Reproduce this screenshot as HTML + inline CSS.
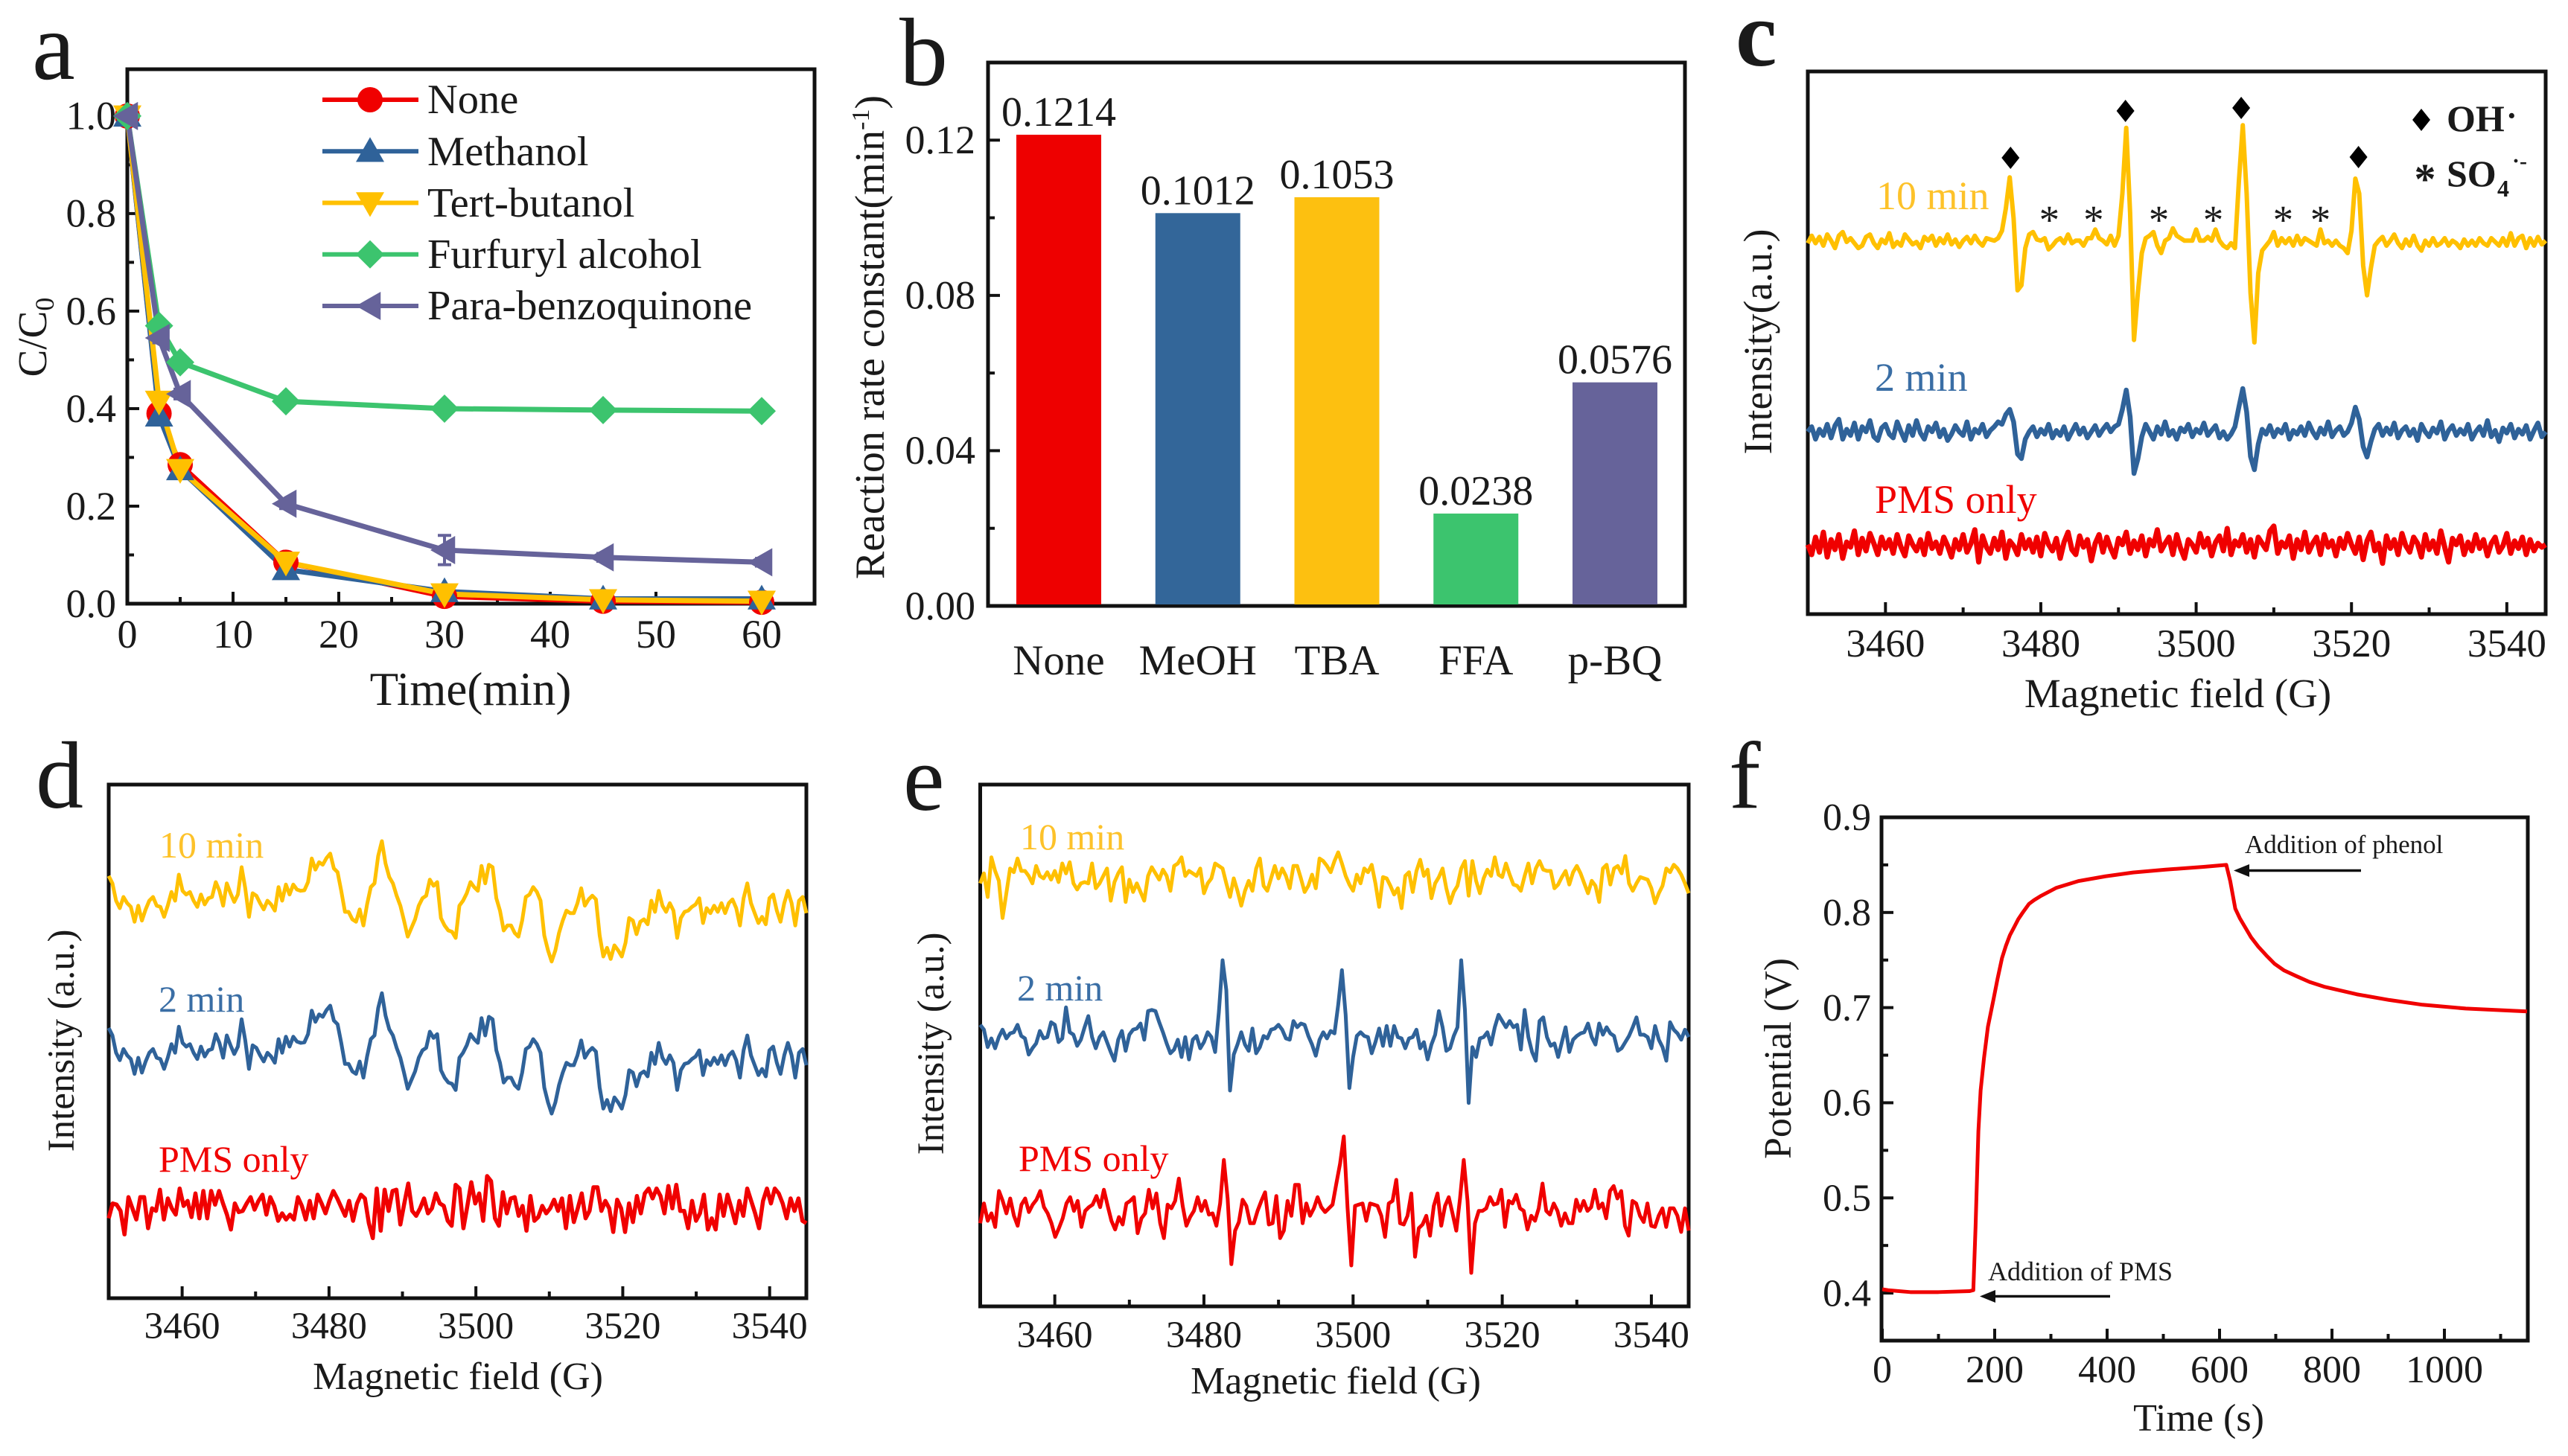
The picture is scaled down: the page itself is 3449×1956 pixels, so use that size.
<!DOCTYPE html>
<html lang="en">
<head>
<meta charset="utf-8">
<title>Radical quenching and EPR spectra figure</title>
<style>
html,body{margin:0;padding:0;background:#fff;}
svg{display:block;font-family:"Liberation Serif",serif;fill:#111;}
text{fill:#1a1a1a;}
</style>
</head>
<body>
<svg id="fig" xmlns="http://www.w3.org/2000/svg" width="3449" height="1956" viewBox="0 0 3449 1956">
<rect x="0" y="0" width="3449" height="1956" style="fill:#fff"/>

<!-- panel letters -->
<text x="43" y="106" font-size="130">a</text>
<text x="1208" y="114" font-size="130">b</text>
<text x="2331" y="88" font-size="125" font-weight="bold">c</text>
<text x="48" y="1085" font-size="128">d</text>
<text x="1213" y="1088" font-size="125">e</text>
<text x="2322" y="1085" font-size="128">f</text>

<!-- frames -->
<rect x="171" y="93" width="923" height="718" style="fill:none;stroke:#111;stroke-width:5"/>
<rect x="1327" y="84" width="936" height="730" style="fill:none;stroke:#111;stroke-width:5"/>
<rect x="2428" y="96" width="991" height="729" style="fill:none;stroke:#111;stroke-width:5"/>
<rect x="146" y="1054" width="937" height="690" style="fill:none;stroke:#111;stroke-width:5"/>
<rect x="1316.5" y="1054" width="951.5" height="701" style="fill:none;stroke:#111;stroke-width:5"/>
<rect x="2527" y="1098" width="868" height="703" style="fill:none;stroke:#111;stroke-width:5"/>

<!-- axis titles -->
<text x="632" y="947" font-size="63" text-anchor="middle">Time(min)</text>
<text transform="translate(62,453) rotate(-90)" font-size="55" text-anchor="middle">C/C<tspan font-size="36" dy="10">0</tspan></text>
<text transform="translate(1187,453) rotate(-90)" font-size="56" text-anchor="middle">Reaction rate constant(min<tspan font-size="34" dy="-20">-1</tspan><tspan dy="20">)</tspan></text>
<text x="2925" y="950" font-size="55" text-anchor="middle">Magnetic field (G)</text>
<text transform="translate(2379,459) rotate(-90)" font-size="54" text-anchor="middle">Intensity(a.u.)</text>
<text x="615" y="1866" font-size="52" text-anchor="middle">Magnetic field (G)</text>
<text transform="translate(99,1398) rotate(-90)" font-size="51" text-anchor="middle">Intensity (a.u.)</text>
<text x="1794" y="1872" font-size="52" text-anchor="middle">Magnetic field (G)</text>
<text transform="translate(1267,1402) rotate(-90)" font-size="51" text-anchor="middle">Intensity (a.u.)</text>
<text x="2953" y="1922" font-size="52" text-anchor="middle">Time (s)</text>
<text transform="translate(2405,1422) rotate(-90)" font-size="52" text-anchor="middle">Potential (V)</text>

<!-- legend a -->
<text x="574" y="152" font-size="56.5">None</text>
<text x="574" y="222" font-size="56.5">Methanol</text>
<text x="574" y="291" font-size="56.5">Tert-butanol</text>
<text x="574" y="360" font-size="56.5">Furfuryl alcohol</text>
<text x="574" y="429" font-size="56.5">Para-benzoquinone</text>

<!-- trace labels -->
<text x="2520" y="281" font-size="54" style="fill:#FDC22A">10 min</text>
<text x="2518" y="525" font-size="54" style="fill:#3A6EA5">2 min</text>
<text x="2518" y="689" font-size="54" style="fill:#F00000">PMS only</text>
<text x="214" y="1152" font-size="50" style="fill:#FDC22A">10 min</text>
<text x="213" y="1359" font-size="50" style="fill:#3A6EA5">2 min</text>
<text x="213" y="1574" font-size="50" style="fill:#F00000">PMS only</text>
<text x="1370" y="1141" font-size="50" style="fill:#FDC22A">10 min</text>
<text x="1366" y="1344" font-size="50" style="fill:#3A6EA5">2 min</text>
<text x="1368" y="1573" font-size="50" style="fill:#F00000">PMS only</text>

<!-- radical legend in c -->
<polygon points="3252,146 3264,161 3252,176 3240,161" style="fill:#000"/>
<text x="3286" y="176" font-size="50" font-weight="bold">OH</text>
<text x="3366" y="170" font-size="44" font-weight="bold">·</text>
<text x="3257" y="260" font-size="58" font-weight="bold" text-anchor="middle">*</text>
<text x="3286" y="250" font-size="50" font-weight="bold">SO</text>
<text x="3354" y="264" font-size="32" font-weight="bold">4</text>
<text x="3374" y="226" font-size="30" font-weight="bold">·-</text>

<!-- annotations f -->
<text x="3015" y="1146" font-size="35">Addition of phenol</text>
<line x1="3171" y1="1169.5" x2="3010" y2="1169.5" style="stroke:#111;stroke-width:3.5"/>
<polygon points="3000,1169.5 3021,1161 3021,1178" style="fill:#111"/>
<text x="2670" y="1720" font-size="36">Addition of PMS</text>
<line x1="2834" y1="1741.5" x2="2669" y2="1741.5" style="stroke:#111;stroke-width:3.5"/>
<polygon points="2659,1741.5 2680,1733 2680,1750" style="fill:#111"/>

<g id="layer"></g>
</svg>

<script>
/* ---------- panel a data ---------- */
const aTimes = [0, 3, 5, 15, 30, 45, 60];
const aNone = [1, 0.39, 0.285, 0.085, 0.015, 0.005, 0.003];
const aMethanol = [1, 0.385, 0.275, 0.07, 0.025, 0.01, 0.01];
const aTert = [1, 0.415, 0.275, 0.085, 0.02, 0.008, 0.005];
const aFurfuryl = [1, 0.57, 0.495, 0.415, 0.4, 0.397, 0.395];
const aBenzo = [1, 0.545, 0.43, 0.205, 0.11, 0.095, 0.085];
const aBenzoErr = [0, 0.01, 0.01, 0.01, 0.03, 0.008, 0.008];
const aXTicks = [0, 10, 20, 30, 40, 50, 60];
const aXMinor = [5, 15, 25, 35, 45, 55];
const aYTicks = [0, 0.2, 0.4, 0.6, 0.8, 1.0];
const aYMinor = [0.1, 0.3, 0.5, 0.7, 0.9];

/* ---------- panel b data ---------- */
const bCategories = ['None', 'MeOH', 'TBA', 'FFA', 'p-BQ'];
const bValues = [0.1214, 0.1012, 0.1053, 0.0238, 0.0576];
const bColors = ['#EE0000', '#336699', '#FDC010', '#3CC46E', '#66639A'];
const bYTicks = [0, 0.04, 0.08, 0.12];
const bYMinor = [0.02, 0.06, 0.1];

/* ---------- EPR axis ticks (c, d, e) ---------- */
const fieldTicks = [3460, 3480, 3500, 3520, 3540];
const fieldMinor = [3470, 3490, 3510, 3530];
const fieldRange = [3450, 3545];

/* ---------- panel c data (arbitrary intensity units) ---------- */
const cTen = [300,330,300,325,290,335,310,280,330,345,305,320,300,280,290,325,335,300,280,315,300,340,285,305,290,335,315,295,305,280,325,310,330,290,320,300,335,295,315,285,310,325,300,330,305,290,320,315,
310,320,350,440,565,400,110,130,280,335,345,
315,310,320,275,290,310,320,300,335,300,310,310,290,320,320,355,320,310,295,330,290,330,
500,765,420,-90,100,260,
320,330,345,290,260,310,320,360,330,320,310,310,310,355,310,310,325,310,355,310,290,280,300,280,
550,775,500,100,-100,180,270,290,310,345,
290,320,300,320,290,330,295,320,310,300,290,355,300,310,290,310,290,280,260,350,
560,500,210,90,200,290,
310,325,290,310,335,300,280,315,290,330,290,270,310,290,320,290,300,320,290,310,300,280,315,290,310,290,320,300,290,320,305,290,320,290,340,290,320,330,280,320,290,325,295,310];
const cTwo = [300,320,270,310,285,330,275,325,350,270,
310,285,335,270,320,300,345,280,265,315,
330,290,275,340,300,265,325,285,345,295,
270,320,300,335,280,310,265,290,325,300,
285,340,270,310,295,330,280,305,320,340,
330,370,390,340,210,192,270,300,320,280,
310,290,330,275,305,285,320,270,300,330,
290,315,275,300,325,285,310,330,300,320,
330,390,468,360,132,190,280,330,300,270,
320,290,340,285,305,270,315,300,330,280,
310,295,335,285,305,325,275,300,270,290,
320,400,474,380,200,147,250,310,290,325,
280,310,295,330,270,305,290,320,285,335,
300,275,315,290,340,280,305,320,285,300,
335,399,350,240,198,260,310,330,285,315,
290,335,275,305,320,285,310,265,330,300,
280,315,295,340,270,305,325,285,310,290,
330,270,300,320,285,345,280,305,260,315,
295,330,275,310,290,325,270,305,335,280,300];
const cPms = [280,240,310,250,330,230,300,260,320,225,
290,270,335,240,305,255,325,285,240,310,
265,300,245,320,270,235,315,280,255,300,
240,325,265,290,245,310,275,230,300,260,
320,250,285,340,210,315,270,245,305,260,
330,225,295,275,240,320,265,300,250,310,
235,325,280,255,305,225,290,330,260,240,
315,270,300,215,285,320,250,310,265,230,
305,280,330,245,295,260,315,235,300,275,
340,255,285,310,240,320,265,225,300,280,
250,325,270,305,235,290,315,255,345,240,
295,275,320,250,300,230,310,285,260,335,
355,245,290,270,315,225,300,260,330,250,
285,310,240,320,270,295,235,305,265,325,
280,245,310,220,295,330,255,285,205,315,
265,300,240,325,275,250,310,285,230,320,
260,295,245,335,270,210,305,280,315,240,
290,255,320,265,300,235,285,310,250,275,
325,245,295,265,310,240,300,255,285,270,280];
const cOffsets = [1195, 435, 0];
const ohFields = [3476.1, 3490.9, 3505.8, 3520.9];
const ohHeights = [1839, 2028, 2040, 1842];
const so4Fields = [3481.1, 3486.8, 3495.2, 3502.2, 3511.2, 3516];
const so4Height = [1533, 1533, 1533, 1533, 1533, 1533];

/* ---------- panel d data ---------- */
const dTen = [400,370,300,270,315,290,275,215,280,220,265,300,315,280,275,235,280,335,300,405,340,325,335,300,275,325,285,310,315,375,340,280,370,330,295,325,435,350,235,330,320,290,265,300,285,260,355,300,365,325,365,345,340,342,375,470,425,455,445,472,490,430,415,340,255,255,225,215,265,200,285,355,370,480,540,450,395,370,320,280,220,155,190,225,280,310,320,385,360,375,230,200,180,175,150,280,300,330,375,355,340,440,370,445,435,310,260,180,200,200,170,155,220,315,325,355,335,300,160,100,55,100,170,220,260,250,250,290,350,280,305,320,305,160,75,110,65,120,100,75,130,230,220,165,215,225,205,300,255,340,280,255,290,260,150,230,255,260,275,285,310,210,270,250,280,255,290,250,290,305,270,200,310,370,290,250,210,235,205,310,325,260,215,290,340,290,200,300,315,250];
const dTwo = [400,370,300,270,315,290,275,215,280,220,265,300,315,280,275,235,280,335,300,405,340,325,335,300,275,325,285,310,315,375,340,280,370,330,295,325,435,350,235,330,320,290,265,300,285,260,355,300,365,325,365,345,340,342,375,470,425,455,445,472,490,430,415,340,255,255,225,215,265,200,285,355,370,480,540,450,395,370,320,280,220,155,190,225,280,310,320,385,360,375,230,200,180,175,150,280,300,330,375,355,340,440,370,445,435,310,260,180,200,200,170,155,220,315,325,355,335,300,160,100,55,100,170,220,260,250,250,290,350,280,305,320,305,160,75,110,65,120,100,75,130,230,220,165,215,225,205,300,255,340,280,255,290,260,150,230,255,260,275,285,310,210,270,250,280,255,290,250,290,305,270,200,310,370,290,250,210,235,205,310,325,260,215,290,340,290,200,300,315,250];
const dPms = [170,230,225,200,105,255,210,165,255,255,130,210,200,285,165,250,210,185,290,220,240,175,270,170,280,170,280,225,280,230,185,125,230,195,200,230,255,205,240,265,185,255,220,160,190,165,185,165,255,220,165,240,170,265,230,190,240,280,250,215,180,240,160,230,265,250,150,90,290,120,285,200,280,285,145,230,310,200,180,210,250,190,210,270,230,220,160,140,305,290,130,220,315,230,270,160,340,320,170,140,275,190,250,255,180,220,120,260,160,175,220,190,210,245,200,250,130,260,155,210,270,170,200,295,295,200,240,210,115,245,210,115,230,155,260,190,270,290,250,290,260,190,300,210,305,200,200,130,240,160,190,265,125,170,125,265,180,265,210,150,240,180,290,240,190,130,240,290,230,290,270,230,170,250,200,250,160,150];
const dOffsets = [1302, 689, 152];

/* ---------- panel e data ---------- */
const eTen = [230,270,175,335,280,240,90,190,290,275,330,280,280,260,230,300,260,250,275,245,280,235,310,270,315,230,205,230,235,230,310,210,230,260,290,160,235,270,295,155,245,195,230,195,160,260,295,270,245,285,260,200,300,310,335,260,280,270,260,290,190,230,250,310,300,290,230,175,250,200,140,200,240,200,290,330,220,200,250,300,250,290,260,210,300,300,250,195,220,265,210,330,320,300,275,320,355,310,260,225,200,265,230,290,275,305,230,135,255,250,220,185,210,130,260,275,195,280,325,260,285,170,230,255,290,210,150,195,220,290,320,180,320,240,190,250,285,260,335,265,255,310,265,225,220,200,260,310,230,290,320,285,280,280,210,225,255,280,225,275,300,270,230,190,240,220,155,290,305,225,290,300,270,340,230,200,230,255,250,245,210,150,190,220,290,275,305,290,265,230,190];
const eTwo = [310,290,220,255,215,260,290,255,275,280,310,265,255,190,215,235,285,255,260,320,310,240,255,380,280,270,225,250,300,345,260,215,260,280,240,200,165,250,285,205,270,290,295,315,250,365,370,365,320,280,235,195,210,250,180,260,170,250,265,215,240,280,260,200,360,570,450,45,190,230,280,230,205,295,195,220,265,255,290,295,310,290,255,250,325,300,315,310,265,230,185,250,280,255,285,275,390,530,350,55,180,265,280,265,260,195,240,295,225,305,225,305,260,255,215,255,260,290,215,240,170,230,270,365,300,205,215,265,300,570,370,-5,220,180,255,260,280,230,300,350,325,300,325,300,310,210,370,260,200,165,325,340,260,225,235,180,240,300,200,250,265,275,280,315,260,230,315,270,300,275,265,205,215,240,265,300,340,270,270,260,215,305,250,220,165,320,290,275,250,290,260];
const ePms = [130,210,140,170,115,260,220,170,230,160,120,205,230,175,205,225,260,195,170,130,75,110,150,210,235,180,220,115,180,195,205,240,195,265,200,140,105,155,125,210,220,235,90,150,170,265,190,250,130,70,205,190,220,310,200,120,155,180,235,180,220,165,170,120,210,385,230,-35,100,135,225,200,130,130,180,220,255,125,130,240,70,100,220,160,285,285,130,210,160,190,235,195,175,190,205,290,370,480,190,-40,200,205,210,140,210,205,200,160,75,210,220,305,130,125,160,250,-5,110,125,160,80,200,250,120,200,235,170,100,230,385,220,-70,130,180,180,190,235,205,210,265,115,220,210,245,190,180,105,160,140,190,290,180,165,210,180,120,170,130,130,225,180,220,180,195,265,190,210,150,260,280,230,260,120,80,220,210,160,135,210,120,115,160,190,115,190,190,160,95,190,100];
const eOffsets = [1475, 825, 205];

/* ---------- panel f data ---------- */
const fTime = [0, 10, 50, 100, 155, 162, 166, 171, 175, 181, 188, 198, 205, 213, 220, 227, 235, 242, 250, 261, 270, 281, 310, 349, 397, 446, 504, 572, 612, 619, 628, 636, 645, 656, 669, 683, 698, 715, 737, 760, 786, 844, 902, 961, 1038, 1147];
const fPotential = [0.404, 0.403, 0.401, 0.401, 0.402, 0.403, 0.47, 0.57, 0.613, 0.647, 0.68, 0.709, 0.73, 0.752, 0.765, 0.776, 0.785, 0.793, 0.8, 0.809, 0.813, 0.817, 0.826, 0.833, 0.838, 0.842, 0.845, 0.848, 0.85, 0.833, 0.804, 0.794, 0.785, 0.774, 0.764, 0.755, 0.746, 0.739, 0.733, 0.727, 0.722, 0.714, 0.708, 0.703, 0.699, 0.696];
const fXTicks = [0, 200, 400, 600, 800, 1000];
const fXMinor = [100, 300, 500, 700, 900, 1100];
const fYTicks = [0.4, 0.5, 0.6, 0.7, 0.8, 0.9];
const fYMinor = [0.45, 0.55, 0.65, 0.75, 0.85];

/* ---------- helpers ---------- */
const SVGNS = 'http://www.w3.org/2000/svg';
const layer = document.getElementById('layer');
function linear(d0, d1, r0, r1) { return v => r0 + (v - d0) / (d1 - d0) * (r1 - r0); }
function node(tag, css) {
  const el = document.createElementNS(SVGNS, tag);
  if (css) el.setAttribute('style', css);
  layer.appendChild(el);
  return el;
}
function xTicks(list, scale, yBase, len, labelY, size, fmt) {
  list.forEach(v => {
    const el = node('line', 'stroke:#111;stroke-width:4');
    
    
    el.setAttribute('x1', scale(v)); el.setAttribute('x2', scale(v));
    el.setAttribute('y1', yBase); el.setAttribute('y2', yBase - len);
    if (labelY) {
      const t = node('text');
      
      
      t.setAttribute('x', scale(v)); t.setAttribute('y', labelY);
      t.setAttribute('font-size', size); t.setAttribute('text-anchor', 'middle');
      t.textContent = fmt(v);
    }
  });
}
function yTicks(list, scale, xBase, len, labelX, size, fmt) {
  list.forEach(v => {
    const el = node('line', 'stroke:#111;stroke-width:4');
    
    
    el.setAttribute('y1', scale(v)); el.setAttribute('y2', scale(v));
    el.setAttribute('x1', xBase); el.setAttribute('x2', xBase + len);
    if (labelX) {
      const t = node('text');
      
      
      t.setAttribute('x', labelX); t.setAttribute('y', scale(v) + size * 0.33);
      t.setAttribute('font-size', size); t.setAttribute('text-anchor', 'end');
      t.textContent = fmt(v);
    }
  });
}
function marker(shape, x, y, color) {
  const r = 19;
  let el;
  if (shape === 'circle') {
    el = node('circle', 'fill:' + color);
    el.setAttribute('cx', x); el.setAttribute('cy', y); el.setAttribute('r', r - 2);
  } else {
    const shapes = {
      up: [[0, -r], [r, r * 0.75], [-r, r * 0.75]],
      down: [[0, r], [r, -r * 0.75], [-r, -r * 0.75]],
      left: [[-r, 0], [r * 0.75, -r], [r * 0.75, r]],
      diamond: [[0, -r], [r, 0], [0, r], [-r, 0]]
    };
    el = node('polygon', 'fill:' + color);
    el.setAttribute('points', shapes[shape].map(p => (x + p[0]) + ',' + (y + p[1])).join(' '));
  }
  
  
}
function trace(values, offset, xs, ys, color, width) {
  const n = values.length;
  const pts = values.map((v, i) => {
    const field = fieldRange[0] + i * (fieldRange[1] - fieldRange[0]) / (n - 1);
    return xs(field).toFixed(1) + ',' + ys(v + offset).toFixed(1);
  }).join(' ');
  const el = node('polyline', 'fill:none;stroke-linejoin:round;stroke-width:' + width + ';stroke:' + color);
  
  
  el.setAttribute('points', pts);
}
const f0 = v => String(v);
const f1 = v => v.toFixed(1);
const f2 = v => v.toFixed(2);

/* ---------- panel a ---------- */
const ax = linear(0, 65, 171, 1094);
const ay = linear(0, 1.096, 811, 93);
xTicks(aXTicks, ax, 811, 16, 870, 54, f0);
xTicks(aXMinor, ax, 811, 9);
yTicks(aYTicks, ay, 171, 16, 156, 54, f1);
yTicks(aYMinor, ay, 171, 9);
const aSeries = [
  [aNone, '#F00000', 'circle'],
  [aMethanol, '#2F6299', 'up'],
  [aTert, '#FFC000', 'down'],
  [aFurfuryl, '#3CC46E', 'diamond'],
  [aBenzo, '#66639A', 'left']
];
aSeries.forEach(s => {
  const el = node('polyline', 'fill:none;stroke-width:7;stroke-linejoin:round;stroke:' + s[1]);
  
  
  el.setAttribute('points', aTimes.map((t, i) => ax(t) + ',' + ay(s[0][i])).join(' '));
});
aTimes.forEach((t, i) => {
  const e = aBenzoErr[i];
  const el = node('path', 'fill:none;stroke:#66639A;stroke-width:4');
  
  
  const x = ax(t), y0 = ay(aBenzo[i] - e), y1 = ay(aBenzo[i] + e);
  el.setAttribute('d', 'M' + (x - 9) + ' ' + y0 + 'H' + (x + 9) + 'M' + x + ' ' + y0 + 'V' + y1 + 'M' + (x - 9) + ' ' + y1 + 'H' + (x + 9));
});
aSeries.forEach(s => {
  aTimes.forEach((t, i) => marker(s[2], ax(t), ay(s[0][i]), s[1]));
});
/* legend swatches */
const legendRowY = linear(0, 4, 134, 411);
aSeries.forEach((s, i) => {
  const el = node('line', 'stroke-width:6;stroke:' + s[1]);
  
  
  el.setAttribute('x1', 433); el.setAttribute('x2', 562);
  el.setAttribute('y1', legendRowY(i)); el.setAttribute('y2', legendRowY(i));
  marker(s[2], 497, legendRowY(i), s[1]);
});

/* ---------- panel b ---------- */
const bx = linear(0, 4, 1422, 2169);
const by = linear(0, 0.14, 814, 84);
yTicks(bYTicks, by, 1327, 16, 1310, 54, f2);
yTicks(bYMinor, by, 1327, 9);
bValues.forEach((v, i) => {
  const el = node('rect', 'fill:' + bColors[i]);
  
  
  el.setAttribute('x', bx(i) - 57); el.setAttribute('width', 114);
  el.setAttribute('y', by(v)); el.setAttribute('height', by(0) - by(v) - 2);
  const t = node('text');
  
  
  t.setAttribute('x', bx(i)); t.setAttribute('y', by(v) - 12);
  t.setAttribute('font-size', 56); t.setAttribute('text-anchor', 'middle');
  t.textContent = v.toFixed(4);
  const c = node('text');
  
  
  c.setAttribute('x', bx(i)); c.setAttribute('y', 906);
  c.setAttribute('font-size', 57); c.setAttribute('text-anchor', 'middle');
  c.textContent = bCategories[i];
});

/* ---------- panel c ---------- */
const cx = linear(3450, 3545, 2428, 3419);
const cy = linear(0, 2187, 825, 96);
xTicks(fieldTicks, cx, 825, 16, 882, 53, f0);
xTicks(fieldMinor, cx, 825, 9);
trace(cPms, cOffsets[2], cx, cy, '#F00000', 7);
trace(cTwo, cOffsets[1], cx, cy, '#2F6299', 6.5);
trace(cTen, cOffsets[0], cx, cy, '#FFC000', 6);
ohFields.forEach((f, i) => {
  const el = node('polygon', 'fill:#000');
  
  
  const x = cx(f), y = cy(ohHeights[i]);
  el.setAttribute('points', x + ',' + (y - 15) + ' ' + (x + 12) + ',' + y + ' ' + x + ',' + (y + 15) + ' ' + (x - 12) + ',' + y);
});
so4Fields.forEach((f, i) => {
  const t = node('text');
  
  
  t.setAttribute('x', cx(f)); t.setAttribute('y', cy(so4Height[i]));
  t.setAttribute('font-size', 55); t.setAttribute('text-anchor', 'middle');
  t.textContent = '*';
});

/* ---------- panel d ---------- */
const dx = linear(3450, 3545, 146, 1083);
const dy = linear(0, 2070, 1744, 1054);
xTicks(fieldTicks, dx, 1744, 16, 1798, 51, f0);
xTicks(fieldMinor, dx, 1744, 9);
trace(dTen, dOffsets[0], dx, dy, '#FFC000', 5);
trace(dTwo, dOffsets[1], dx, dy, '#2F6299', 5);
trace(dPms, dOffsets[2], dx, dy, '#F00000', 5.5);

/* ---------- panel e ---------- */
const ex = linear(3450, 3545, 1316.5, 2268);
const ey = linear(0, 2103, 1755, 1054);
xTicks(fieldTicks, ex, 1755, 16, 1810, 51, f0);
xTicks(fieldMinor, ex, 1755, 9);
trace(eTen, eOffsets[0], ex, ey, '#FFC000', 5);
trace(eTwo, eOffsets[1], ex, ey, '#2F6299', 5);
trace(ePms, eOffsets[2], ex, ey, '#F00000', 5);

/* ---------- panel f ---------- */
const fx = linear(0, 1000, 2528, 3283);
const fy = linear(0.35, 0.9, 1801, 1098);
xTicks(fXTicks, fx, 1801, 16, 1857, 52, f0);
xTicks(fXMinor, fx, 1801, 9);
yTicks(fYTicks, fy, 2527, 16, 2513, 52, f1);
yTicks(fYMinor, fy, 2527, 9);
const fLine = node('polyline', 'fill:none;stroke:#F00000;stroke-width:5;stroke-linejoin:round');


fLine.setAttribute('points', fTime.map((t, i) => fx(t) + ',' + fy(fPotential[i])).join(' '));
</script>
</body>
</html>
